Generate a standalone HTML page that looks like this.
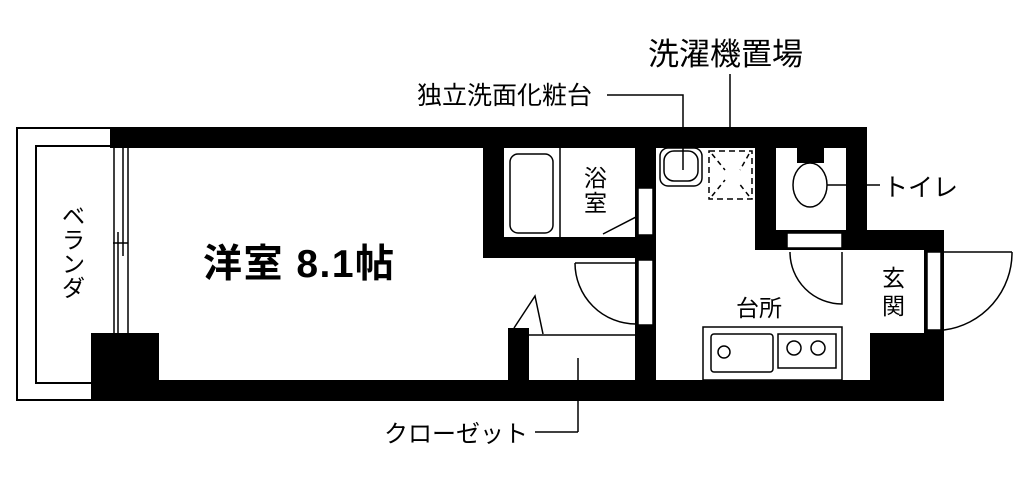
<!DOCTYPE html>
<html><head><meta charset="utf-8"><style>
html,body{margin:0;padding:0;background:#fff;}
svg{display:block}
text{font-family:"Liberation Sans","Noto Sans CJK JP",sans-serif;fill:#000}
</style></head><body>
<svg width="1024" height="486" viewBox="0 0 1024 486" xmlns="http://www.w3.org/2000/svg">
<rect x="17" y="128" width="94" height="272" fill="none" stroke="#000" stroke-width="2"/>
<rect x="36" y="146" width="75" height="237" fill="none" stroke="#000" stroke-width="2"/>
<rect x="110" y="146" width="20" height="190" fill="#fff"/>
<line x1="114" y1="148" x2="114" y2="336" stroke="#000" stroke-width="1.5"/>
<line x1="123" y1="148" x2="123" y2="256" stroke="#000" stroke-width="1.5"/>
<line x1="118" y1="232" x2="118" y2="336" stroke="#000" stroke-width="1.5"/>
<line x1="128" y1="148" x2="128" y2="336" stroke="#000" stroke-width="1.5"/>
<line x1="113" y1="243" x2="128" y2="243" stroke="#000" stroke-width="1.5"/>
<g fill="#000">
<rect x="110" y="127" width="757" height="21"/>
<rect x="110" y="380" width="834" height="21"/>
<rect x="91" y="333" width="68" height="68"/>
<rect x="483" y="127" width="21" height="131"/>
<rect x="483" y="237" width="172" height="21"/>
<rect x="635" y="127" width="21" height="253"/>
<rect x="508" y="328" width="21" height="52"/>
<rect x="755" y="127" width="21" height="123"/>
<rect x="846" y="127" width="21" height="123"/>
<rect x="755" y="230" width="189" height="20"/>
<rect x="924" y="230" width="20" height="171"/>
<rect x="870" y="333" width="74" height="68"/>
<rect x="797" y="146" width="27" height="17"/>
</g>
<rect x="638" y="188" width="15" height="47" fill="#fff" stroke="#000" stroke-width="1.5"/>
<rect x="638" y="260" width="15" height="65" fill="#fff" stroke="#000" stroke-width="1.5"/>
<rect x="787" y="233" width="55" height="15" fill="#fff" stroke="#000" stroke-width="1.5"/>
<rect x="927" y="252" width="14" height="78" fill="#fff" stroke="#000" stroke-width="1.5"/>
<g fill="none" stroke="#000" stroke-width="1.5">
<rect x="510" y="154" width="43" height="79" rx="8"/>
<line x1="560" y1="148" x2="560" y2="237"/>
<polyline points="603,234 636,217 636,234"/>
<path d="M575,263 L636,263 M636,263 L636,324 M575,263 A61,61 0 0 0 636,324"/>
<path d="M790,252 A52,52 0 0 0 842,304 L842,252"/>
<path d="M944,252 L1012,252 M944,330 A78,78 0 0 0 1012,252"/>
<polyline points="514,328 535,296 543,334"/>
<line x1="529" y1="335" x2="635" y2="335"/>
<line x1="578" y1="358" x2="578" y2="432"/>
<line x1="535" y1="432" x2="578" y2="432"/>
<rect x="660" y="148" width="42" height="38" rx="8"/>
<rect x="664" y="151" width="34" height="30" rx="10"/>
<polyline points="607,95 683,95 683,170"/>
<line x1="730" y1="74" x2="730" y2="127"/>
<rect x="709" y="151" width="43" height="48" stroke-dasharray="6,4"/>
<path d="M712,154 L725,170 M749,154 L740,170 M712,196 L725,180 M749,196 L738,182" stroke-dasharray="5,4"/>
<ellipse cx="810" cy="185" rx="17" ry="22"/>
<line x1="827" y1="185" x2="880" y2="185"/>
<rect x="703" y="327" width="139" height="53"/>
<rect x="711" y="334" width="62" height="38" rx="3"/>
<circle cx="724" cy="352" r="6"/>
<rect x="778" y="334" width="58" height="34"/>
<circle cx="794" cy="348" r="7"/>
<circle cx="818" cy="348" r="7"/>
</g>
<text x="648" y="65" font-size="31">洗濯機置場</text>
<text x="417" y="104" font-size="25">独立洗面化粧台</text>
<text x="883" y="196" font-size="25">トイレ</text>
<text x="384" y="442" font-size="24">クローゼット</text>
<text x="203" y="277" font-size="39" font-weight="bold" letter-spacing="1.5">洋室 8.1帖</text>
<text x="584" y="186" font-size="23">浴</text>
<text x="584" y="211" font-size="23">室</text>
<text x="882" y="286" font-size="23">玄</text>
<text x="882" y="314" font-size="23">関</text>
<text x="736" y="316" font-size="23">台所</text>
<g font-size="23">
<text x="62" y="224">ベ</text>
<text x="62" y="248">ラ</text>
<text x="62" y="272">ン</text>
<text x="62" y="296">ダ</text>
</g>
</svg>
</body></html>
